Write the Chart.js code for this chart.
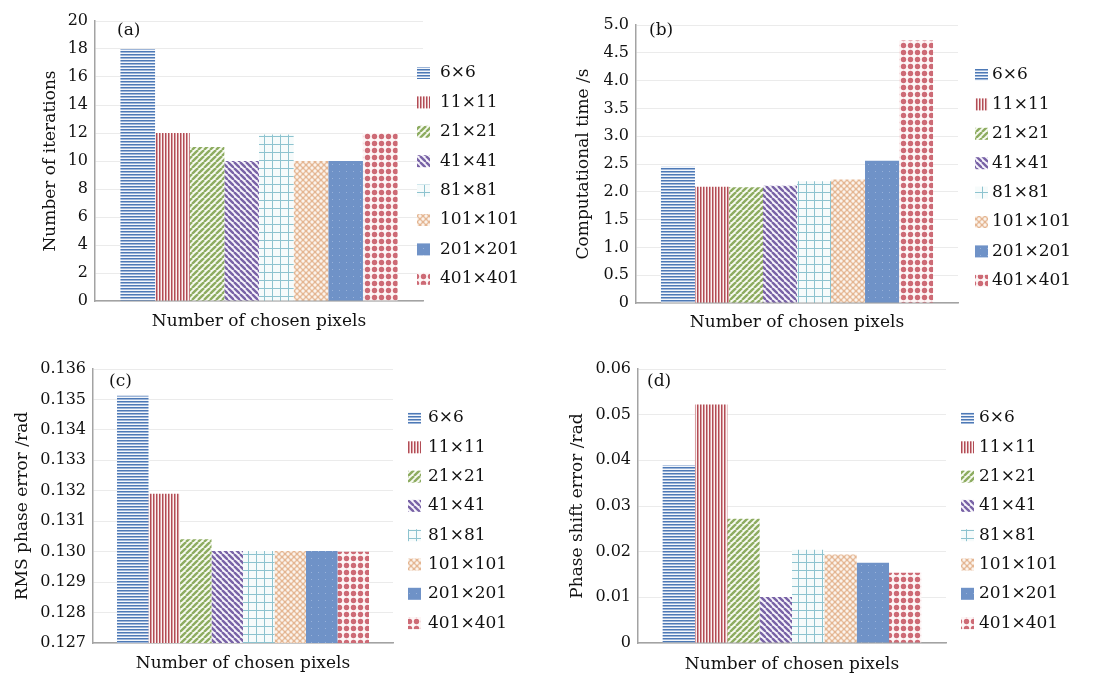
<!DOCTYPE html>
<html>
<head>
<meta charset="utf-8">
<script src="https://cdn.jsdelivr.net/npm/chart.js@4.4.1/dist/chart.umd.min.js"></script>
<style>
  body { margin: 0; background: #fff; }
  .panel { position: absolute; }
</style>
</head>
<body>
<div class="panel" style="left:0;top:0;width:550px;height:338px"><canvas id="chartA"></canvas></div>
<div class="panel" style="left:550px;top:0;width:549px;height:338px"><canvas id="chartB"></canvas></div>
<div class="panel" style="left:0;top:338px;width:550px;height:337px"><canvas id="chartC"></canvas></div>
<div class="panel" style="left:550px;top:338px;width:549px;height:337px"><canvas id="chartD"></canvas></div>
<script>
// data
const sizes = ['6×6', '11×11', '21×21', '41×41', '81×81', '101×101', '201×201', '401×401'];
const iterations = [18, 12, 11, 10, 11.9, 10, 10, 12];
const compTime = [2.45, 2.09, 2.08, 2.11, 2.19, 2.22, 2.56, 4.72];
const rmsError = [0.13512, 0.1319, 0.13041, 0.13002, 0.13002, 0.13002, 0.13002, 0.13];
const shiftError = [0.0389, 0.0522, 0.0272, 0.0101, 0.0204, 0.0194, 0.0176, 0.0154];

const ticksA = ['0', '2', '4', '6', '8', '10', '12', '14', '16', '18', '20'];
const ticksB = ['0', '0.5', '1.0', '1.5', '2.0', '2.5', '3.0', '3.5', '4.0', '4.5', '5.0'];
const ticksC = ['0.127', '0.128', '0.129', '0.130', '0.131', '0.132', '0.133', '0.134', '0.135', '0.136'];
const ticksD = ['0', '0.01', '0.02', '0.03', '0.04', '0.05', '0.06'];

const FONT = '"DejaVu Serif", "Liberation Serif", serif';
const TEXT = '#111';

// fill patterns
function pattern(size, draw) {
  const c = document.createElement('canvas');
  c.width = size; c.height = size;
  const g = c.getContext('2d');
  draw(g, size);
  return g.createPattern(c, 'repeat');
}

const fills = [
  pattern(3, (g, s) => { // horizontal lines
    g.fillStyle = '#f4f7fb'; g.fillRect(0, 0, s, s);
    g.fillStyle = '#4d79b6'; g.fillRect(0, 0, s, 1);
    g.fillStyle = '#9db5d8'; g.fillRect(0, 1, s, 1);
  }),
  pattern(3, (g, s) => { // vertical lines
    g.fillStyle = '#faf3f3'; g.fillRect(0, 0, s, s);
    g.fillStyle = '#b24c55'; g.fillRect(0, 0, 1, s);
    g.fillStyle = '#d99ea2'; g.fillRect(1, 0, 1, s);
  }),
  pattern(6, (g, s) => { // up diagonal
    g.fillStyle = '#f7faf2'; g.fillRect(0, 0, s, s);
    g.strokeStyle = '#8dac60'; g.lineWidth = 2.4;
    for (const k of [-s, 0, s]) { g.beginPath(); g.moveTo(k, s); g.lineTo(k + s, 0); g.stroke(); }
  }),
  pattern(6, (g, s) => { // down diagonal
    g.fillStyle = '#f6f4fa'; g.fillRect(0, 0, s, s);
    g.strokeStyle = '#7862a6'; g.lineWidth = 2.4;
    for (const k of [-s, 0, s]) { g.beginPath(); g.moveTo(k, 0); g.lineTo(k + s, s); g.stroke(); }
  }),
  pattern(8, (g, s) => { // grid
    g.fillStyle = '#f6fbfb'; g.fillRect(0, 0, s, s);
    g.fillStyle = '#8dc3cf'; g.fillRect(0, 0, s, 1); g.fillRect(0, 0, 1, s);
  }),
  pattern(6, (g, s) => { // lattice
    g.fillStyle = '#e4b591'; g.fillRect(0, 0, s, s);
    g.fillStyle = '#fbf3ec';
    for (const [x, y] of [[0, 0], [s, 0], [0, s], [s, s], [s / 2, s / 2]]) {
      g.beginPath(); g.arc(x, y, 1.7, 0, Math.PI * 2); g.fill();
    }
  }),
  pattern(7, (g, s) => { // solid with small dots
    g.fillStyle = '#6f92c7'; g.fillRect(0, 0, s, s);
    g.fillStyle = '#98b2da'; g.fillRect(3, 3, 1, 1);
  }),
  pattern(7, (g, s) => { // big dots
    g.fillStyle = '#fdf6f6'; g.fillRect(0, 0, s, s);
    g.fillStyle = '#cd6a75';
    g.beginPath(); g.arc(3.5, 3.5, 2.7, 0, Math.PI * 2); g.fill();
  })
];

// legend and panel letter
const panelDecor = {
  id: 'panelDecor',
  afterDraw(chart, args, o) {
    const ctx = chart.ctx;
    ctx.save();
    ctx.textBaseline = 'middle';
    ctx.fillStyle = TEXT;
    ctx.font = '17px ' + FONT;
    ctx.fillText(o.tag, o.tagX, o.tagY);
    chart.data.datasets.forEach((ds, i) => {
      const y = o.legY + i * o.legStep;
      ctx.fillStyle = ds.backgroundColor;
      ctx.fillRect(o.boxX, y - 6, 13, 12);
      ctx.fillStyle = TEXT;
      ctx.fillText(ds.label, o.textX, y);
    });
    ctx.restore();
  }
};

function makeChart(id, p) {
  new Chart(document.getElementById(id), {
    type: 'bar',
    data: {
      labels: [''],
      datasets: sizes.map((s, i) => ({
        label: s,
        data: [p.values[i]],
        backgroundColor: fills[i],
        borderWidth: 0
      }))
    },
    options: {
      responsive: true,
      maintainAspectRatio: false,
      animation: false,
      categoryPercentage: p.catPct,
      barPercentage: 1,
      layout: { padding: { left: 0, top: p.top, right: p.right, bottom: 0 } },
      plugins: {
        legend: { display: false },
        tooltip: { enabled: false },
        panelDecor: p.decor
      },
      scales: {
        x: {
          grid: { display: false },
          border: { color: '#a3a3a3', width: 1.5 },
          ticks: { display: false },
          title: {
            display: true, text: 'Number of chosen pixels', color: TEXT,
            font: { family: FONT, size: 17 }, padding: { top: 0, bottom: p.xTitlePad }
          },
          afterFit: s => { s.height = p.xHeight; }
        },
        y: {
          min: p.min, max: p.max,
          grid: { color: '#ebebeb', drawTicks: false },
          border: { color: '#a3a3a3', width: 1.5 },
          ticks: {
            stepSize: p.step, padding: 7, color: TEXT,
            font: { family: FONT, size: 16 },
            callback: (v, i) => p.tickLabels[i]
          },
          title: {
            display: true, text: p.yTitle, color: TEXT,
            font: { family: FONT, size: 17 }, padding: { top: p.yTitlePad, bottom: 0 }
          },
          afterFit: s => { s.width = p.left; }
        }
      }
    },
    plugins: [panelDecor]
  });
}

makeChart('chartA', {
  values: iterations, tickLabels: ticksA, min: 0, max: 20, step: 2,
  yTitle: 'Number of iterations', yTitlePad: 40,
  left: 95, top: 21, right: 127, xHeight: 37, xTitlePad: 6, catPct: 0.845,
  decor: { tag: '(a)', tagX: 117, tagY: 31, boxX: 417, textX: 440, legY: 73, legStep: 29.4 }
});

makeChart('chartB', {
  values: compTime, tickLabels: ticksB, min: 0, max: 5, step: 0.5,
  yTitle: 'Computational time /s', yTitlePad: 23,
  left: 86, top: 25, right: 141, xHeight: 35, xTitlePad: 5, catPct: 0.845,
  decor: { tag: '(b)', tagX: 99, tagY: 31, boxX: 425, textX: 442, legY: 75, legStep: 29.4 }
});

makeChart('chartC', {
  values: rmsError, tickLabels: ticksC, min: 0.127, max: 0.136, step: 0.001,
  yTitle: 'RMS phase error /rad', yTitlePad: 12,
  left: 93, top: 31, right: 157, xHeight: 32, xTitlePad: 1, catPct: 0.84,
  decor: { tag: '(c)', tagX: 109, tagY: 44, boxX: 408, textX: 428, legY: 80, legStep: 29.3 }
});

makeChart('chartD', {
  values: shiftError, tickLabels: ticksD, min: 0, max: 0.06, step: 0.01,
  yTitle: 'Phase shift error /rad', yTitlePad: 17,
  left: 88, top: 31, right: 153, xHeight: 32, xTitlePad: 0, catPct: 0.84,
  decor: { tag: '(d)', tagX: 97, tagY: 44, boxX: 411, textX: 429, legY: 80, legStep: 29.3 }
});
</script>
</body>
</html>
